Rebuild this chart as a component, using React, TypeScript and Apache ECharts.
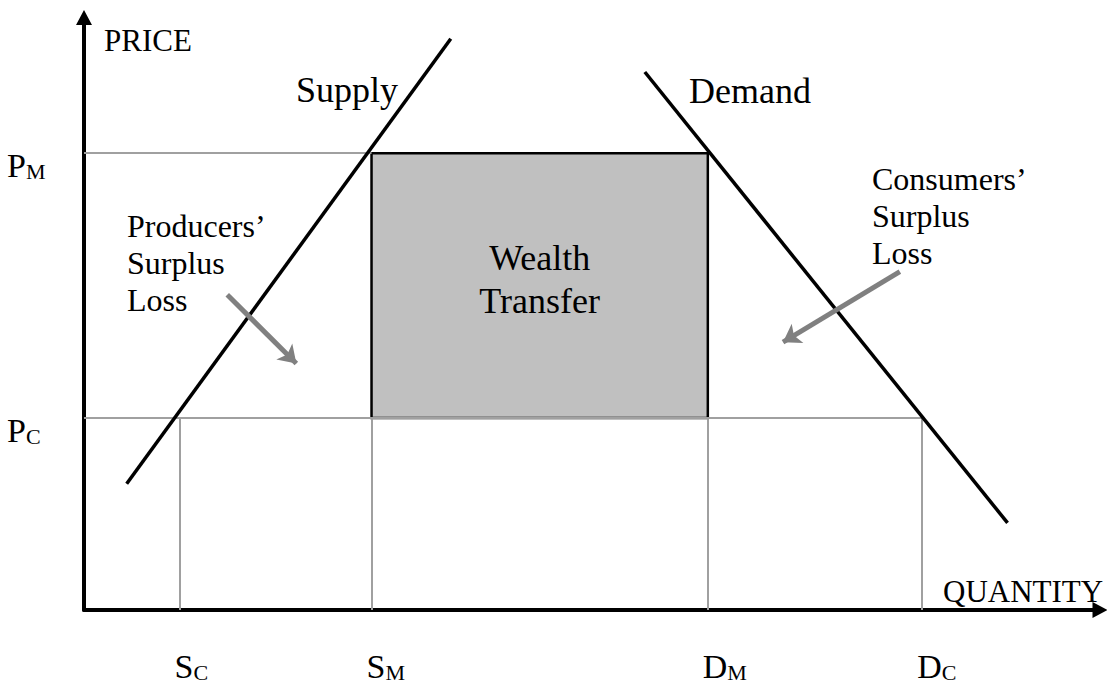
import React, { useEffect, useRef } from 'react';
import * as echarts from 'echarts';

// ---- Data (x = quantity on a 0–100 scale, y = price on a 0–100 scale) ----
const qtyValues = [9.4, 28.3, 61.4, 82.5]; // S_C, S_M, D_M, D_C
const qtyMain = ['S', 'S', 'D', 'D'];
const qtySub = ['C', 'M', 'M', 'C'];

const priceValues = [77.1, 32.4]; // P_M, P_C
const priceMain = ['P', 'P'];
const priceSub = ['M', 'C'];

const supplyLine = [[4.2, 21.3], [36.1, 96.4]];
const demandLine = [[55.2, 90.8], [90.9, 14.7]];

const producersArrow = [[14.1, 53.2], [20.9, 41.6]];
const consumersArrow = [[80.3, 57.1], [68.8, 45.2]];

const FONT = '"Liberation Serif", "Times New Roman", serif';

const richStyles = {
  m: { fontFamily: FONT, fontSize: 34, lineHeight: 40, fill: '#000', verticalAlign: 'bottom' },
  s: { fontFamily: FONT, fontSize: 22, lineHeight: 26, fill: '#000', verticalAlign: 'bottom' },
};

export default function App() {
  const ref = useRef<HTMLDivElement>(null);

  useEffect(() => {
    document.body.style.margin = '0';
    if (!ref.current) return;
    const chart = echarts.init(ref.current, null, { renderer: 'svg' });

    const [, SM, DM, DC] = qtyValues;
    const [PM, PC] = priceValues;

    const guides: any[] = [
      { coords: [[0, PM], [SM, PM]] },
      { coords: [[0, PC], [DC, PC]] },
      ...qtyValues.map((q) => ({ coords: [[q, 0], [q, PC]] })),
    ];

    const axisCommon = {
      type: 'value',
      min: 0,
      max: 100,
      axisLine: {
        show: true,
        symbol: ['none', 'triangle'],
        symbolSize: [16, 15],
        lineStyle: { color: '#000', width: 4 },
      },
      axisTick: { show: false },
      axisLabel: { show: false },
      splitLine: { show: false },
    };

    const option: any = {
      animation: false,
      backgroundColor: '#fff',
      grid: { left: 84, right: 7, top: 17.5, bottom: 75 },
      xAxis: { ...axisCommon },
      yAxis: { ...axisCommon },
      series: [
        {
          name: 'guides',
          type: 'lines',
          coordinateSystem: 'cartesian2d',
          silent: true,
          z: 2,
          lineStyle: { color: '#a0a0a0', width: 2, opacity: 1 },
          data: guides,
        },
        {
          name: 'transfer',
          type: 'line',
          silent: true,
          z: 3,
          data: [],
          markArea: {
            silent: true,
            itemStyle: { color: '#c0c0c0', borderColor: '#000', borderWidth: 2.5 },
            label: {
              show: true,
              position: 'inside',
              color: '#000',
              fontFamily: FONT,
              fontSize: 36,
              lineHeight: 43,
              offset: [0, -6],
            },
            data: [[{ coord: [SM, PM], name: 'Wealth\nTransfer' }, { coord: [DM, PC] }]],
          },
        },
        {
          name: 'Supply',
          type: 'line',
          silent: true,
          z: 5,
          symbol: 'none',
          lineStyle: { color: '#000', width: 3.5 },
          data: supplyLine,
        },
        {
          name: 'Demand',
          type: 'line',
          silent: true,
          z: 5,
          symbol: 'none',
          lineStyle: { color: '#000', width: 3.5 },
          data: demandLine,
        },
        {
          name: 'arrows',
          type: 'lines',
          coordinateSystem: 'cartesian2d',
          silent: true,
          z: 6,
          symbol: ['none', 'arrow'],
          symbolSize: 17,
          lineStyle: { color: '#808080', width: 5, opacity: 1 },
          data: [{ coords: producersArrow }, { coords: consumersArrow }],
        },
      ],
    };

    chart.setOption(option);

    const toPx = (pt: number[]) => chart.convertToPixel({ gridIndex: 0 }, pt) as number[];

    const tickText = (main: string, sub: string, x: number, y: number) => ({
      type: 'text',
      x,
      y,
      silent: true,
      style: {
        text: `{m|${main}}{s|${sub}}`,
        rich: richStyles,
        align: 'left',
        verticalAlign: 'middle',
        fill: '#000',
        font: `34px ${FONT}`,
      },
    });

    const priceLabels = priceValues.map((v, i) => {
      const [px, py] = toPx([0, v]);
      return tickText(priceMain[i], priceSub[i], px - 77, py + 9);
    });
    const qtyLabels = qtyValues.map((v, i) => {
      const [px, py] = toPx([v, 0]);
      return tickText(qtyMain[i], qtySub[i], px - 5, py + 53);
    });

    chart.setOption({
      graphic: [
        { type: 'text', x: 104, y: 40, style: { text: 'PRICE', font: `31px ${FONT}`, fill: '#000', verticalAlign: 'middle' } },
        { type: 'text', x: 943, y: 591, style: { text: 'QUANTITY', font: `31px ${FONT}`, fill: '#000', verticalAlign: 'middle' } },
        { type: 'text', x: 296, y: 90, style: { text: 'Supply', font: `36px ${FONT}`, fill: '#000', verticalAlign: 'middle' } },
        { type: 'text', x: 689, y: 91, style: { text: 'Demand', font: `36px ${FONT}`, fill: '#000', verticalAlign: 'middle' } },
        {
          type: 'text', x: 127, y: 207,
          style: { text: 'Producers’\nSurplus\nLoss', font: `32px ${FONT}`, lineHeight: 37, fill: '#000', verticalAlign: 'top' },
        },
        {
          type: 'text', x: 872, y: 160,
          style: { text: 'Consumers’\nSurplus\nLoss', font: `32px ${FONT}`, lineHeight: 37, fill: '#000', verticalAlign: 'top' },
        },
        ...priceLabels,
        ...qtyLabels,
      ],
    });

    return () => chart.dispose();
  }, []);

  return <div ref={ref} style={{ width: 1107, height: 685 }} />;
}
